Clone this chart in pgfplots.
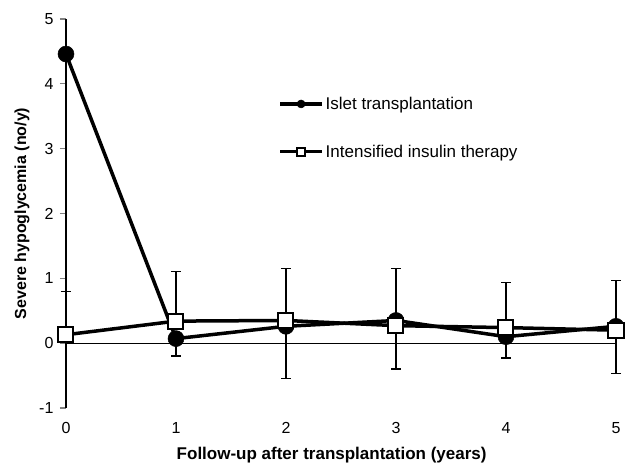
\documentclass[border=0pt]{standalone}
\usepackage{pgfplots}
\pgfplotsset{compat=1.18}
\usepackage{fontspec}
\setmainfont{Liberation Sans}
\begin{document}
\begin{tikzpicture}
\path (-66pt,-55pt) rectangle (566pt,408pt);
\begin{axis}[
  at={(0pt,0pt)}, anchor=south west,
  scale only axis, width=550pt, height=389pt,
  xmin=0, xmax=5, ymin=-1, ymax=5,
  clip=false,
  axis y line*=left, axis x line*=bottom,
  x axis line style={draw=none},
  y axis line style={line width=1.3pt},
  xtick={0,1,2,3,4,5}, ytick={-1,0,1,2,3,4,5},
  xtick style={draw=none},
  ytick style={line width=1.3pt},
  tick align=outside, major tick length=6pt,
  /pgf/number format/assume math mode=true,
  tick label style={font=\fontsize{16}{18}\selectfont},
  xticklabel style={yshift=-5pt},
  yticklabel style={xshift=-3pt},
  xlabel={\textbf{Follow-up after transplantation (years)}},
  ylabel={\textbf{Severe hypoglycemia (no/y)}},
  xlabel style={font=\fontsize{17}{19}\selectfont, at={(axis description cs:0.483,-0.12)}, anchor=center},
  ylabel style={font=\fontsize{16}{18}\selectfont, at={(axis description cs:-0.08,0.5)}, anchor=center},
  legend style={at={(axis cs:1.93,3.83)}, anchor=north west, draw=none, fill=none,
    font=\fontsize{17}{19}\selectfont, row sep=30pt, inner sep=0pt},
  legend cell align=left,
  legend image code/.code={
    \draw[line width=3.2pt] (0pt,0pt) -- (42pt,0pt);
    \draw[#1, line width=1.3pt, mark size=4pt] plot coordinates {(21pt,0pt)};
  },
]
\draw[line width=1.3pt] (axis cs:0,0) -- (axis cs:5,0);
\addplot[black, line width=3.5pt, mark=*, mark size=8pt,
  mark options={fill=black, line width=0.5pt},
  error bars/.cd, y dir=minus, y explicit,
  error bar style={line width=1.3pt, black},
  error mark options={rotate=90, mark size=5pt, line width=1.3pt}]
  coordinates {
  (0,4.46) +- (0,0)
  (1,0.07) +- (0,0.27)
  (2,0.26) +- (0,0.80)
  (3,0.35) +- (0,0.75)
  (4,0.10) +- (0,0.33)
  (5,0.26) +- (0,0.73)
  };
\addlegendentry{Islet transplantation}
\addplot[black, line width=3.5pt, mark=square*, mark size=7.5pt,
  mark options={fill=white, line width=2pt},
  error bars/.cd, y dir=plus, y explicit,
  error bar style={line width=1.3pt, black},
  error mark options={rotate=90, mark size=5pt, line width=1.3pt}]
  coordinates {
  (0,0.13) +- (0,0.67)
  (1,0.34) +- (0,0.77)
  (2,0.35) +- (0,0.80)
  (3,0.27) +- (0,0.88)
  (4,0.24) +- (0,0.70)
  (5,0.20) +- (0,0.77)
  };
\addlegendentry{Intensified insulin therapy}
\end{axis}
\end{tikzpicture}
\end{document}
